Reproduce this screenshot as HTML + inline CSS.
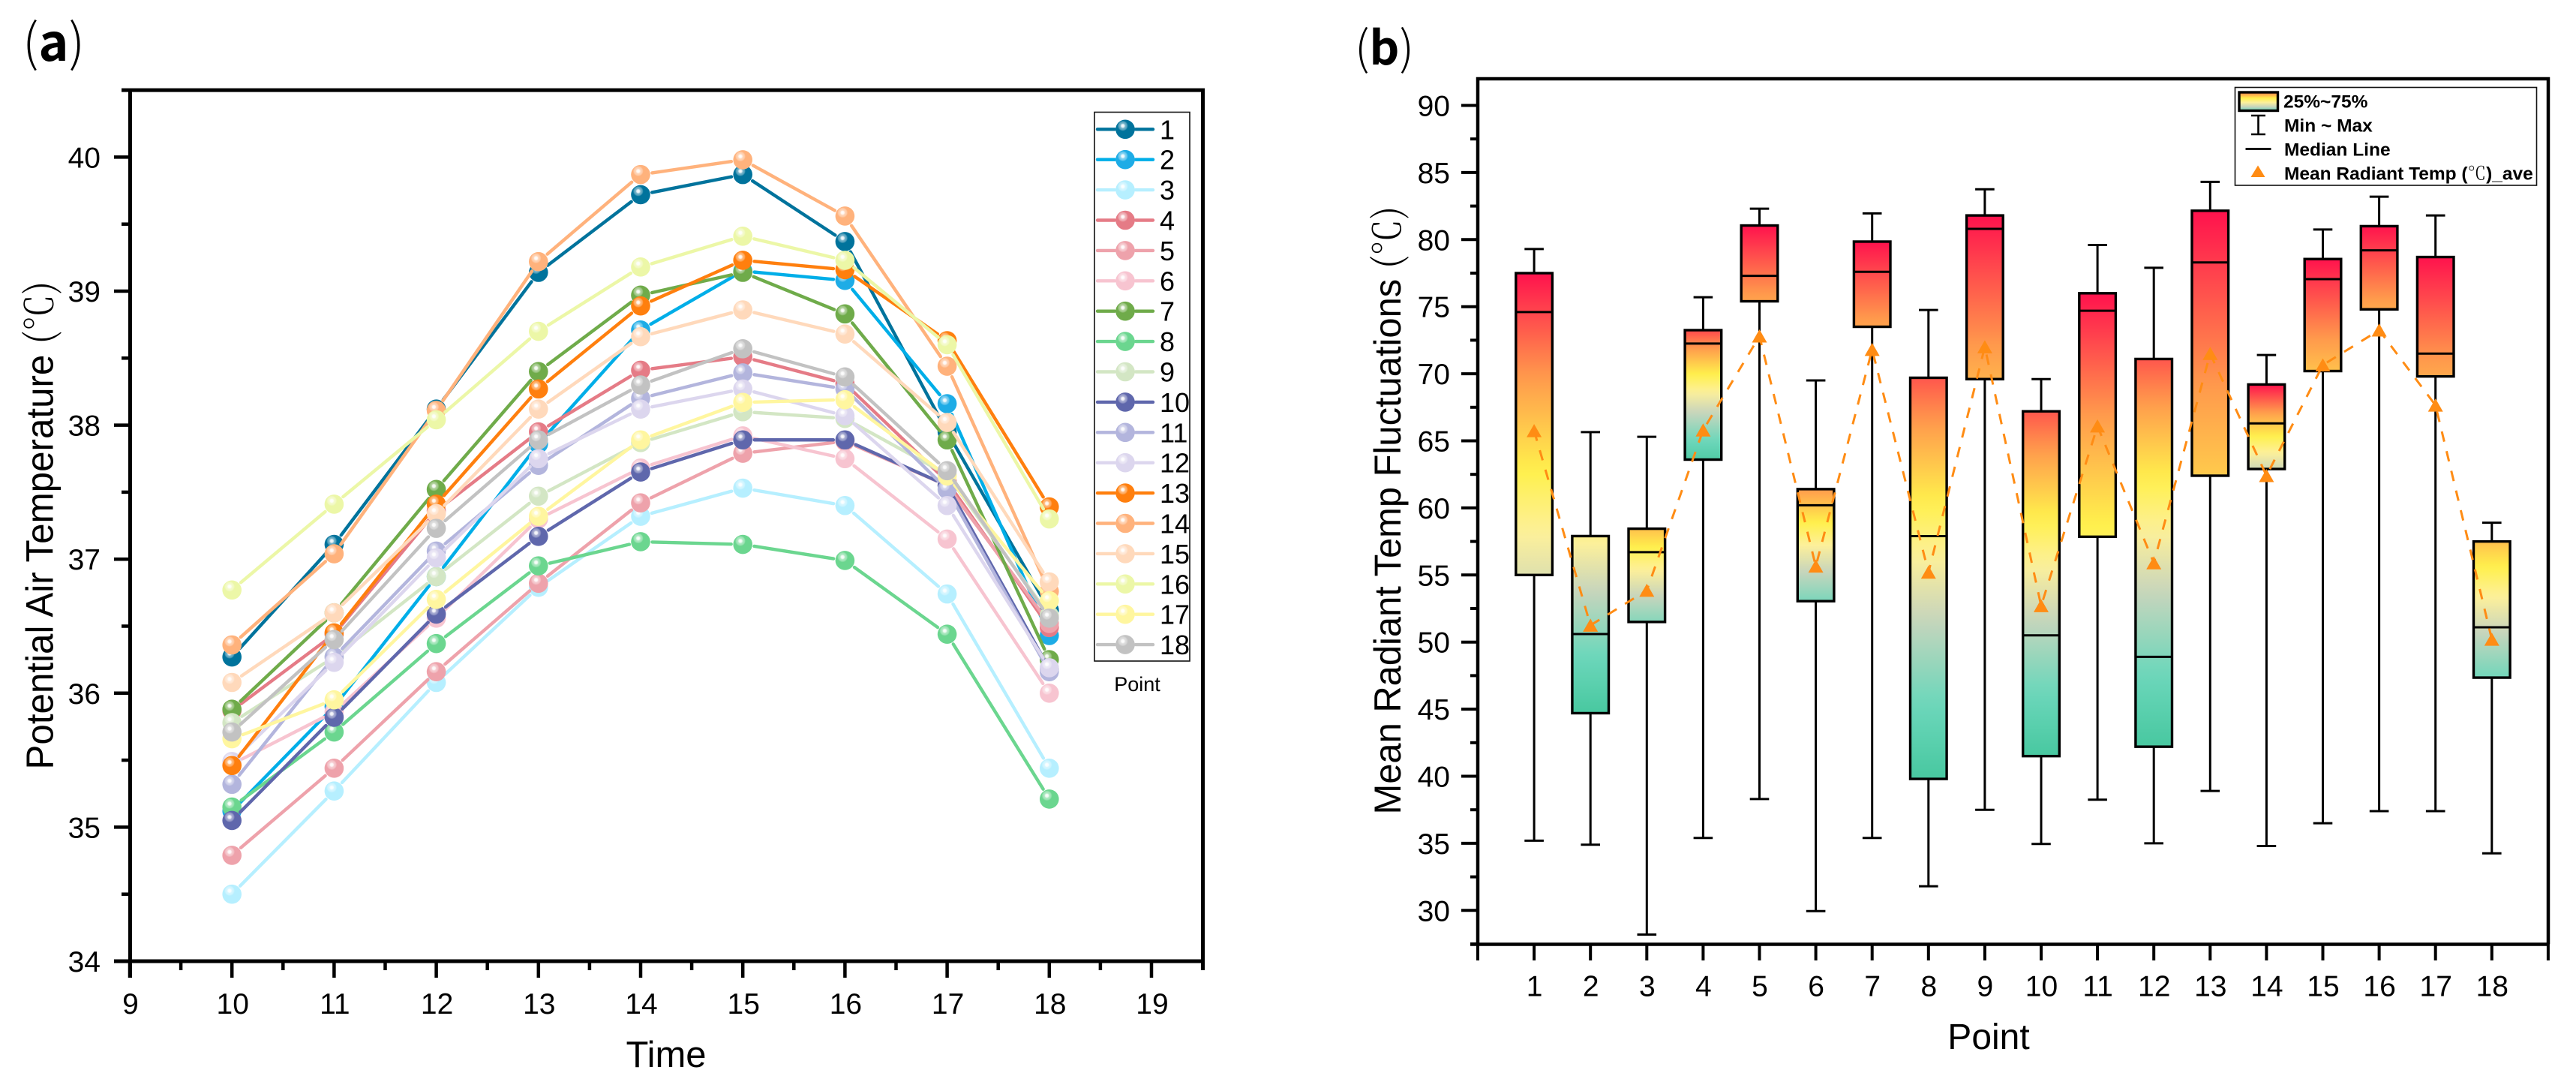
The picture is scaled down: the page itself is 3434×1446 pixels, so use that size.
<!DOCTYPE html>
<html lang="en">
<head>
<meta charset="utf-8">
<title>Potential Air Temperature and Mean Radiant Temp Fluctuations</title>
<style>
html,body{margin:0;padding:0;background:#fff;}
svg{display:block;}
text{font-family:"Liberation Sans","Noto Sans CJK SC",sans-serif;fill:#000;}
.cjk{font-family:"Noto Serif CJK SC","Liberation Serif",serif;font-weight:300;}
.panel{font-family:"Noto Sans CJK SC","Liberation Sans",sans-serif;}
</style>
</head>
<body>
<svg id="figure" xmlns="http://www.w3.org/2000/svg" width="3434" height="1446" viewBox="0 0 3434 1446">
  <defs id="defs">
    <radialGradient id="shine">
      <stop offset="0" stop-color="#fff" stop-opacity="1"/>
      <stop offset="0.32" stop-color="#fff" stop-opacity="0.85"/>
      <stop offset="0.45" stop-color="#fff" stop-opacity="0.5"/>
      <stop offset="0.8" stop-color="#fff" stop-opacity="0.3"/>
      <stop offset="1" stop-color="#fff" stop-opacity="0"/>
    </radialGradient>
    <linearGradient id="legend-box-fill" x1="0" y1="0" x2="0" y2="1">
      <stop offset="0" stop-color="#ff7a4c"/>
      <stop offset="0.32" stop-color="#fff04c"/>
      <stop offset="0.55" stop-color="#fdf09a"/>
      <stop offset="0.78" stop-color="#c8d5bc"/>
      <stop offset="1" stop-color="#6dd7bb"/>
    </linearGradient>
  </defs>
  <text class="panel" x="30" y="81" font-size="68"><tspan font-weight="300">(</tspan><tspan font-weight="700">a</tspan><tspan font-weight="300">)</tspan></text>
  <text class="panel" x="1806" y="86" font-size="62"><tspan font-weight="300">(</tspan><tspan font-weight="700">b</tspan><tspan font-weight="300">)</tspan></text>
  <g id="chart-a"></g>
  <g id="chart-b"></g>
</svg>
<script>
// ---------- Panel (a) data ----------
const hours = [10, 11, 12, 13, 14, 15, 16, 17, 18];
const pointNames = ['1','2','3','4','5','6','7','8','9','10','11','12','13','14','15','16','17','18'];
const airTemp1  = [36.27,37.11,38.12,39.14,39.72,39.87,39.37,37.95,36.62];
const airTemp2  = [35.12,35.90,36.87,37.86,38.71,39.15,39.08,38.16,36.43];
const airTemp3  = [34.50,35.27,36.08,36.79,37.32,37.53,37.40,36.74,35.44];
const airTemp4  = [35.87,36.44,37.36,37.95,38.41,38.51,38.31,37.58,36.49];
const airTemp5  = [34.79,35.44,36.16,36.82,37.42,37.79,37.88,37.55,36.52];
const airTemp6  = [35.47,35.86,36.56,37.30,37.68,37.92,37.75,37.15,36.00];
const airTemp7  = [35.88,36.60,37.52,38.40,38.97,39.14,38.83,37.89,36.25];
const airTemp8  = [35.15,35.71,36.37,36.95,37.13,37.11,36.99,36.44,35.21];
const airTemp9  = [35.78,36.27,36.87,37.47,37.87,38.10,38.05,37.63,36.58];
const airTemp10 = [35.05,35.82,36.59,37.17,37.65,37.89,37.89,37.55,36.18];
const airTemp11 = [35.32,36.27,37.06,37.70,38.20,38.39,38.27,37.52,36.16];
const airTemp12 = [35.49,36.23,37.01,37.75,38.12,38.27,38.07,37.40,36.19];
const airTemp13 = [35.46,36.45,37.41,38.27,38.89,39.23,39.16,38.63,37.39];
const airTemp14 = [36.36,37.04,38.11,39.22,39.87,39.98,39.56,38.44,36.76];
const airTemp15 = [36.08,36.60,37.34,38.12,38.66,38.86,38.68,38.02,36.83];
const airTemp16 = [36.77,37.41,38.04,38.70,39.18,39.41,39.23,38.60,37.30];
const airTemp17 = [35.66,35.95,36.70,37.32,37.89,38.17,38.19,37.62,36.69];
const airTemp18 = [35.71,36.40,37.23,37.89,38.30,38.57,38.36,37.66,36.56];
const airSeries = [airTemp1,airTemp2,airTemp3,airTemp4,airTemp5,airTemp6,airTemp7,airTemp8,airTemp9,airTemp10,airTemp11,airTemp12,airTemp13,airTemp14,airTemp15,airTemp16,airTemp17,airTemp18];
const airXTicks = [9,10,11,12,13,14,15,16,17,18,19];
const airYTicks = [34,35,36,37,38,39,40];

// ---------- Panel (b) data ----------
const boxPoints = [1,2,3,4,5,6,7,8,9,10,11,12,13,14,15,16,17,18];
const boxMax    = [79.3,65.65,65.3,75.7,82.3,69.5,81.95,74.75,83.75,69.6,79.6,77.9,84.3,71.4,80.75,83.2,81.8,58.9];
const boxQ3     = [77.5,57.9,58.45,73.25,81.05,61.4,79.85,69.7,81.8,67.2,76.0,71.1,82.15,69.2,78.55,81.0,78.7,57.5];
const boxMedian = [74.6,50.6,56.7,72.25,77.3,60.2,77.6,57.9,80.8,50.5,74.7,48.9,78.3,66.3,77.05,79.2,71.5,51.1];
const boxQ1     = [55.0,44.7,51.5,63.6,75.4,53.05,73.5,39.8,69.6,41.5,57.85,42.2,62.4,62.9,70.2,74.8,69.8,47.35];
const boxMin    = [35.2,34.9,28.2,35.4,38.3,29.95,35.4,31.8,37.5,34.95,38.25,35.0,38.9,34.8,36.5,37.4,37.4,34.25];
const boxMean   = [65.75,51.25,53.85,65.8,72.8,55.65,71.8,55.2,72.0,52.7,66.1,55.9,71.5,62.4,70.65,73.25,67.65,50.2];
const colorTop    = [1,0.52,0.72,0.92,1,0.8,1,0.9,1,0.9,1,0.9,1,1,1,1,1,0.72];
const colorBottom = [0.42,0,0.22,0.04,0.78,0.2,0.78,0,0.75,0,0.6,0,0.7,0.38,0.72,0.77,0.77,0.18];
const boxYTicks = [30,35,40,45,50,55,60,65,70,75,80,85,90];
const boxYMinorTicks = [27.5,32.5,37.5,42.5,47.5,52.5,57.5,62.5,67.5,72.5,77.5,82.5,87.5];

// ---------- Style ----------
const pointColors = ['#00739c','#1eace6','#b6efff','#e57b86','#eea2ab','#f7c4d0','#6fab4a','#6bd68f','#d3e6c4','#5f67ac','#b3b5dd','#dcd6ee','#ff7f0e','#ffb27c','#ffd9bb','#ecf7a7','#fff69f','#c2c2c2'];
const lineColors  = ['#00739c','#00aee8','#b6efff','#e57b86','#eea2ab','#f7c4d0','#6fab4a','#6bd68f','#d3e6c4','#5f67ac','#b3b5dd','#dcd6ee','#ff7f0e','#ffb27c','#ffd9bb','#ecf7a7','#fff69f','#c2c2c2'];
const ramp = [[0,[72,200,160]],[0.17,[109,215,187]],[0.36,[200,213,188]],[0.5,[253,240,154]],[0.62,[255,240,76]],[0.8,[255,154,76]],[1,[255,18,77]]];

// ---------- Axis functions ----------
const xA = v => 173 + (v - 9) * 136.2;
const yA = v => 1281 - (v - 34) * 178.6;
const xB = v => 1970 + v * 75.1;
const yB = v => 140.5 + (90 - v) * 17.88;

const NS = 'http://www.w3.org/2000/svg';
const defs = document.getElementById('defs');
const chartA = document.getElementById('chart-a');
const chartB = document.getElementById('chart-b');

function mk(tag, attrs, parent) {
  const el = document.createElementNS(NS, tag);
  for (const k in attrs) el.setAttribute(k, attrs[k]);
  parent.appendChild(el);
  return el;
}
function rampColor(t) {
  for (let i = 1; i < ramp.length; i++) {
    if (t <= ramp[i][0]) {
      const a = ramp[i-1], b = ramp[i], f = (t - a[0]) / (b[0] - a[0]);
      return 'rgb(' + a[1].map((c, j) => Math.round(c + (b[1][j] - c) * f)).join(',') + ')';
    }
  }
  return 'rgb(' + ramp[ramp.length-1][1].join(',') + ')';
}
function sphere(parent, cx, cy, i) {
  const g = mk('g', {}, parent);
  mk('circle', {cx: cx, cy: cy, r: 12.8, fill: pointColors[i]}, g);
  mk('circle', {cx: cx - 3.2, cy: cy - 4.6, r: 7, fill: 'url(#shine)'}, g);
  return g;
}

// ---------- Panel (a): frame ----------
const frameA = mk('g', {fill: 'none', stroke: '#000', 'stroke-width': 5}, chartA);


mk('path', {d: `M162 ${yA(40.5)}H1603.5V1293M173.5 ${yA(40.5)}V1303M152 1281H1603.5`}, frameA);

const xAxisA = mk('g', {}, chartA);


airXTicks.forEach(v => {
  mk('line', {x1: xA(v), x2: xA(v), y1: 1281, y2: 1303, stroke: '#000', 'stroke-width': 4.5}, xAxisA);
  if (v < 19) mk('line', {x1: xA(v + 0.5), x2: xA(v + 0.5), y1: 1281, y2: 1293, stroke: '#000', 'stroke-width': 4.5}, xAxisA);
  const t = mk('text', {x: xA(v) + 1, y: 1351, 'font-size': 39, 'text-anchor': 'middle'}, xAxisA);
  t.textContent = v;
  
  
});
const yAxisA = mk('g', {}, chartA);


airYTicks.forEach(v => {
  mk('line', {x1: 152, x2: 173, y1: yA(v), y2: yA(v), stroke: '#000', 'stroke-width': 4.5}, yAxisA);
  if (v < 40) mk('line', {x1: 162, x2: 173, y1: yA(v + 0.5), y2: yA(v + 0.5), stroke: '#000', 'stroke-width': 4.5}, yAxisA);
  const t = mk('text', {x: 134, y: yA(v) + 14, 'font-size': 39, 'text-anchor': 'end'}, yAxisA);
  t.textContent = v;
  
  
});
const titleXA = mk('text', {x: 888, y: 1422, 'font-size': 49, 'text-anchor': 'middle'}, chartA);
titleXA.textContent = 'Time';


const titleYA = mk('text', {transform: 'translate(70.5,700) rotate(-90)', 'font-size': 51, 'text-anchor': 'middle', textLength: 651, lengthAdjust: 'spacingAndGlyphs'}, chartA);


titleYA.appendChild(document.createTextNode('Potential Air Temperature '));
const titleYAUnit = mk('tspan', {class: 'cjk'}, titleYA);
titleYAUnit.textContent = '(℃)';

// ---------- Panel (a): series ----------
airSeries.forEach((vals, i) => {
  const g = mk('g', {}, chartA);
  
  
  for (let k = 0; k < vals.length - 1; k++) {
    const x0 = xA(hours[k]), y0 = yA(vals[k]), x1 = xA(hours[k+1]), y1 = yA(vals[k+1]);
    const d = Math.hypot(x1 - x0, y1 - y0), ux = (x1 - x0) / d, uy = (y1 - y0) / d;
    mk('line', {x1: x0 + ux * 15.5, y1: y0 + uy * 15.5, x2: x1 - ux * 15.5, y2: y1 - uy * 15.5, stroke: lineColors[i], 'stroke-width': 4.4, 'stroke-linecap': 'round'}, g);
  }
  vals.forEach((v, k) => {
    const m = sphere(g, xA(hours[k]), yA(v), i);
    
    
  });
});

// ---------- Panel (a): legend ----------
const legendA = mk('g', {}, chartA);


mk('rect', {x: 1459, y: 149.5, width: 127, height: 731.5, fill: '#fff', stroke: '#111', 'stroke-width': 1.6}, legendA);
pointNames.forEach((name, i) => {
  const rowY = 172.3 + i * 40.4;
  const row = mk('g', {}, legendA);
  
  
  mk('line', {x1: 1463, x2: 1486, y1: rowY, y2: rowY, stroke: lineColors[i], 'stroke-width': 4.4, 'stroke-linecap': 'round'}, row);
  mk('line', {x1: 1514, x2: 1537, y1: rowY, y2: rowY, stroke: lineColors[i], 'stroke-width': 4.4, 'stroke-linecap': 'round'}, row);
  sphere(row, 1500, rowY, i);
  const t = mk('text', {x: 1546, y: rowY + 13, 'font-size': 36}, row);
  t.textContent = name;
});
const legendTitle = mk('text', {x: 1516, y: 921, 'font-size': 27, 'text-anchor': 'middle'}, legendA);
legendTitle.textContent = 'Point';



// ---------- Panel (b): frame ----------
const frameB = mk('g', {fill: 'none', stroke: '#000', 'stroke-width': 4.5}, chartB);


mk('path', {d: 'M1968 105H3397V1258.5M1970 103V1258.5M1960 1258.5H3397'}, frameB);

const yAxisB = mk('g', {}, chartB);


boxYTicks.forEach(v => {
  mk('line', {x1: 1948, x2: 1970, y1: yB(v), y2: yB(v), stroke: '#000', 'stroke-width': 4}, yAxisB);
  const t = mk('text', {x: 1933, y: yB(v) + 14, 'font-size': 39, 'text-anchor': 'end'}, yAxisB);
  t.textContent = v;
  
  
});
boxYMinorTicks.forEach(v => {
  mk('line', {x1: 1960, x2: 1970, y1: yB(v), y2: yB(v), stroke: '#000', 'stroke-width': 4}, yAxisB);
});
const xAxisB = mk('g', {}, chartB);


[0].concat(boxPoints, [19]).forEach(v => {
  mk('line', {x1: xB(v), x2: xB(v), y1: 1258, y2: 1280, stroke: '#000', 'stroke-width': 4}, xAxisB);
});
boxPoints.forEach(v => {
  const t = mk('text', {x: xB(v) + 0.5, y: 1327.5, 'font-size': 39, 'text-anchor': 'middle'}, xAxisB);
  t.textContent = v;
  
  
});
const titleXB = mk('text', {x: 2651, y: 1398, 'font-size': 48, 'text-anchor': 'middle'}, chartB);
titleXB.textContent = 'Point';


const titleYB = mk('text', {transform: 'translate(1867,680) rotate(-90)', 'font-size': 50, 'text-anchor': 'middle', textLength: 811, lengthAdjust: 'spacingAndGlyphs'}, chartB);


titleYB.appendChild(document.createTextNode('Mean Radiant Temp Fluctuations '));
const titleYBUnit = mk('tspan', {class: 'cjk'}, titleYB);
titleYBUnit.textContent = '(℃)';

// ---------- Panel (b): boxes ----------
boxPoints.forEach((p, i) => {
  const g = mk('g', {}, chartB);
  
  
  const grad = mk('linearGradient', {id: 'box-fill-' + p, x1: 0, y1: 0, x2: 0, y2: 1}, defs);
  for (let s = 0; s <= 24; s++) {
    const f = s / 24;
    mk('stop', {offset: f, 'stop-color': rampColor(colorTop[i] + (colorBottom[i] - colorTop[i]) * f)}, grad);
  }
  const cx = xB(p);
  const whisker = mk('g', {stroke: '#000', 'stroke-width': 3}, g);
  
  
  mk('line', {x1: cx, x2: cx, y1: yB(boxMax[i]), y2: yB(boxQ3[i])}, whisker);
  mk('line', {x1: cx, x2: cx, y1: yB(boxQ1[i]), y2: yB(boxMin[i])}, whisker);
  mk('line', {x1: cx - 12.8, x2: cx + 12.8, y1: yB(boxMax[i]), y2: yB(boxMax[i])}, whisker);
  mk('line', {x1: cx - 12.8, x2: cx + 12.8, y1: yB(boxMin[i]), y2: yB(boxMin[i])}, whisker);
  const rect = mk('rect', {x: cx - 24.3, y: yB(boxQ3[i]), width: 48.6, height: yB(boxQ1[i]) - yB(boxQ3[i]), fill: `url(#box-fill-${p})`, stroke: '#000', 'stroke-width': 3.4}, g);
  
  
  const med = mk('line', {x1: cx - 24.3, x2: cx + 24.3, y1: yB(boxMedian[i]), y2: yB(boxMedian[i]), stroke: '#000', 'stroke-width': 3}, g);
  
  
});
const meanPath = boxPoints.map((p, i) => (i ? 'L' : 'M') + xB(p) + ' ' + yB(boxMean[i])).join('');
const meanLine = mk('path', {d: meanPath, fill: 'none', stroke: '#ff8c14', 'stroke-width': 3, 'stroke-dasharray': '14 13'}, chartB);


boxPoints.forEach((p, i) => {
  const cx = xB(p), cy = yB(boxMean[i]);
  const tri = mk('path', {d: `M${cx} ${cy - 9}L${cx + 10} ${cy + 8.5}H${cx - 10}Z`, fill: '#ff8c14'}, chartB);
  
  
});

// ---------- Panel (b): legend ----------
const legendB = mk('g', {}, chartB);


mk('rect', {x: 2979.5, y: 116.5, width: 402, height: 130.5, fill: '#fff', stroke: '#111', 'stroke-width': 1.6}, legendB);
mk('rect', {x: 2985, y: 123, width: 51.5, height: 24.5, fill: 'url(#legend-box-fill)', stroke: '#000', 'stroke-width': 3.4}, legendB);
mk('path', {d: 'M3001 154H3020M3010.5 154V179M3001 179H3020', fill: 'none', stroke: '#000', 'stroke-width': 2.6}, legendB);
mk('line', {x1: 2993.5, x2: 3027.5, y1: 198.5, y2: 198.5, stroke: '#000', 'stroke-width': 2.8}, legendB);
mk('path', {d: 'M3010 220.5L3019.5 236H3000.5Z', fill: '#ff8c14'}, legendB);
const legText1 = mk('text', {x: 3044, y: 143.5, 'font-size': 24.5, 'font-weight': 700}, legendB);
legText1.textContent = '25%~75%';


const legText2 = mk('text', {x: 3045, y: 175.5, 'font-size': 24.5, 'font-weight': 700}, legendB);
legText2.textContent = 'Min ~ Max';


const legText3 = mk('text', {x: 3045, y: 207.5, 'font-size': 24.5, 'font-weight': 700}, legendB);
legText3.textContent = 'Median Line';


const legText4 = mk('text', {x: 3045, y: 239.5, 'font-size': 24.5, 'font-weight': 700}, legendB);


legText4.appendChild(document.createTextNode('Mean Radiant Temp ('));
const legUnit = mk('tspan', {class: 'cjk'}, legText4);
legUnit.textContent = '℃';
const legTail = mk('tspan', {}, legText4);
legTail.textContent = ')_ave';
</script>
</body>
</html>
